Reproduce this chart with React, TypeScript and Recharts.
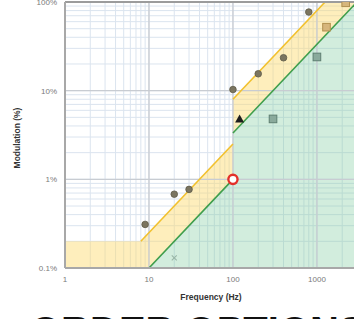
import React from 'react';
import {
  ComposedChart,
  XAxis,
  YAxis,
  CartesianGrid,
  Area,
  Line,
  Scatter,
  ReferenceLine,
  Label,
} from 'recharts';

// ---- axis ticks (log grid) ----
const xTicks = [1, 2, 3, 4, 5, 6, 7, 8, 9, 10, 20, 30, 40, 50, 60, 70, 80, 90, 100, 200, 300, 400, 500, 600, 700, 800, 900, 1000, 2000, 3000];
const yTicks = [0.1, 0.2, 0.3, 0.4, 0.5, 0.6, 0.7, 0.8, 0.9, 1, 2, 3, 4, 5, 6, 7, 8, 9, 10, 20, 30, 40, 50, 60, 70, 80, 90, 100];
const xMajor = [10, 100, 1000];
const yMajor = [1, 10];
const xLabels: Record<number, string> = { 1: '1', 10: '10', 100: '100', 1000: '1000' };
const yLabels: Record<number, string> = { 0.1: '0.1%', 1: '1%', 10: '10%', 100: '100%' };

// ---- regions ----
const lowRiskBand = [
  { f: 1, band: [0.1, 0.2] },
  { f: 8, band: [0.1, 0.2] },
  { f: 10, band: [0.1, 0.25] },
  { f: 100, band: [1, 2.5] },
  { f: 100, band: [3.33, 8] },
  { f: 1250, band: [41.6, 100] },
  { f: 3000, band: [100, 100] },
];
const noEffectBand = [
  { f: 10, band: [0.1, 0.1] },
  { f: 100, band: [0.1, 1] },
  { f: 100, band: [0.1, 3.33] },
  { f: 3000, band: [0.1, 100] },
];

// ---- boundary lines ----
const lowRiskLineA = [{ f: 8, m: 0.2 }, { f: 100, m: 2.5 }];
const lowRiskLineB = [{ f: 100, m: 8 }, { f: 1250, m: 100 }];
const noEffectLineA = [{ f: 10, m: 0.1 }, { f: 100, m: 1 }];
const noEffectLineB = [{ f: 100, m: 3.33 }, { f: 3000, m: 100 }];

// ---- measured products ----
const circlePoints = [
  { f: 9, m: 0.31 },
  { f: 20, m: 0.68 },
  { f: 30, m: 0.77 },
  { f: 100, m: 10.3 },
  { f: 200, m: 15.5 },
  { f: 400, m: 23.5 },
  { f: 800, m: 77 },
];
const trianglePoints = [{ f: 120, m: 4.8 }];
const tealSquarePoints = [{ f: 300, m: 4.8 }, { f: 1000, m: 24 }];
const tanSquarePoints = [{ f: 1300, m: 52 }, { f: 2200, m: 98 }];
const ringPoints = [{ f: 100, m: 1 }];
const crossPoints = [{ f: 20, m: 0.13 }];

const FONT = '"Liberation Sans", Arial, sans-serif';

const CircleShape = (p: any) => (
  <circle cx={p.cx} cy={p.cy} r={3.3} fill="#7b7560" stroke="#5e5a48" strokeWidth={0.8} />
);
const TriangleShape = (p: any) => (
  <polygon
    points={`${p.cx},${p.cy - 4.5} ${p.cx - 4.5},${p.cy + 3.5} ${p.cx + 4.5},${p.cy + 3.5}`}
    fill="#1e1e1e"
  />
);
const TealSquareShape = (p: any) => (
  <rect x={p.cx - 3.8} y={p.cy - 3.8} width={7.6} height={7.6} fill="#8aaa9c" stroke="#5f7f72" strokeWidth={1} />
);
const TanSquareShape = (p: any) => (
  <rect x={p.cx - 3.8} y={p.cy - 3.8} width={7.6} height={7.6} fill="#d6b67c" stroke="#b0904f" strokeWidth={1} />
);
const RingShape = (p: any) => (
  <circle cx={p.cx} cy={p.cy} r={4.6} fill="#ffffff" stroke="#e3302a" strokeWidth={2.4} />
);
const CrossShape = (p: any) => (
  <g stroke="#98b5a6" strokeWidth={1.1}>
    <line x1={p.cx - 2.5} y1={p.cy - 2.5} x2={p.cx + 2.5} y2={p.cy + 2.5} />
    <line x1={p.cx - 2.5} y1={p.cy + 2.5} x2={p.cx + 2.5} y2={p.cy - 2.5} />
  </g>
);

const YTitle = (props: any) => {
  const vb = props.viewBox || {};
  const cx = vb.x + 17;
  const cy = vb.y + vb.height / 2 + 3;
  return (
    <text
      x={cx}
      y={cy}
      transform={`rotate(-90 ${cx} ${cy})`}
      textAnchor="middle"
      dominantBaseline="central"
      fontSize={8.5}
      fontWeight="bold"
      fill="#333"
      fontFamily={FONT}
    >
      Modulation (%)
    </text>
  );
};

const XTitle = (props: any) => {
  const vb = props.viewBox || {};
  const cx = vb.x + vb.width / 2;
  const cy = vb.y + 29;
  return (
    <text
      x={cx}
      y={cy}
      textAnchor="middle"
      dominantBaseline="central"
      fontSize={8.5}
      fontWeight="bold"
      fill="#333"
      fontFamily={FONT}
    >
      Frequency (Hz)
    </text>
  );
};

export default function App() {
  return (
    <div
      style={{
        position: 'fixed',
        left: 0,
        top: 0,
        width: 354,
        height: 319,
        overflow: 'hidden',
        background: '#fff',
      }}
    >
      <ComposedChart width={362} height={308} margin={{ top: 2, right: 5, bottom: 20, left: 0 }}>
        <CartesianGrid stroke="#dbe4ef" strokeWidth={1} />
        <XAxis
          dataKey="f"
          type="number"
          scale="log"
          domain={[1, 3000]}
          allowDataOverflow
          ticks={xTicks}
          interval={0}
          tickFormatter={(v: number) => xLabels[v] ?? ''}
          tickLine={false}
          axisLine={{ stroke: '#a8a8a8', strokeWidth: 2 }}
          tick={{ fontSize: 8, fill: '#7a7a7a', fontFamily: FONT }}
          height={20}
        >
          <Label content={XTitle} />
        </XAxis>
        <YAxis
          dataKey="m"
          type="number"
          scale="log"
          domain={[0.1, 100]}
          allowDataOverflow
          ticks={yTicks}
          interval={0}
          tickFormatter={(v: number) => yLabels[v] ?? ''}
          tickLine={false}
          axisLine={{ stroke: '#a8a8a8', strokeWidth: 2 }}
          tick={{ fontSize: 8, fill: '#7a7a7a', fontFamily: FONT }}
          width={65}
        >
          <Label content={YTitle} />
        </YAxis>

        {xMajor.map((v) => (
          <ReferenceLine key={'x' + v} x={v} stroke="#c8ccd2" strokeWidth={1.3} />
        ))}
        {yMajor.map((v) => (
          <ReferenceLine key={'y' + v} y={v} stroke="#c8ccd2" strokeWidth={1.3} />
        ))}

        <Area
          data={lowRiskBand}
          dataKey="band"
          type="linear"
          stroke="none"
          fill="#fcd96a"
          fillOpacity={0.45}
          isAnimationActive={false}
          dot={false}
          activeDot={false}
        />
        <Area
          data={noEffectBand}
          dataKey="band"
          type="linear"
          stroke="none"
          fill="#7fcb9e"
          fillOpacity={0.35}
          isAnimationActive={false}
          dot={false}
          activeDot={false}
        />

        <Line data={lowRiskLineA} dataKey="m" type="linear" stroke="#f2c12e" strokeWidth={1.6} dot={false} activeDot={false} isAnimationActive={false} />
        <Line data={lowRiskLineB} dataKey="m" type="linear" stroke="#f2c12e" strokeWidth={1.6} dot={false} activeDot={false} isAnimationActive={false} />
        <Line data={noEffectLineA} dataKey="m" type="linear" stroke="#3f9e4c" strokeWidth={1.6} dot={false} activeDot={false} isAnimationActive={false} />
        <Line data={noEffectLineB} dataKey="m" type="linear" stroke="#3f9e4c" strokeWidth={1.6} dot={false} activeDot={false} isAnimationActive={false} />

        <ReferenceLine y={100} stroke="#9c9c9c" strokeWidth={2} />

        <Scatter data={circlePoints} dataKey="m" shape={CircleShape} isAnimationActive={false} />
        <Scatter data={trianglePoints} dataKey="m" shape={TriangleShape} isAnimationActive={false} />
        <Scatter data={tealSquarePoints} dataKey="m" shape={TealSquareShape} isAnimationActive={false} />
        <Scatter data={tanSquarePoints} dataKey="m" shape={TanSquareShape} isAnimationActive={false} />
        <Scatter data={ringPoints} dataKey="m" shape={RingShape} isAnimationActive={false} />
        <Scatter data={crossPoints} dataKey="m" shape={CrossShape} isAnimationActive={false} />
      </ComposedChart>
      <div
        style={{
          position: 'absolute',
          left: 30,
          top: 311,
          fontFamily: FONT,
          fontWeight: 'bold',
          fontSize: 40,
          lineHeight: '40px',
          color: '#111',
          whiteSpace: 'nowrap',
        }}
      >
        ORDER OPTIONS
      </div>
    </div>
  );
}
